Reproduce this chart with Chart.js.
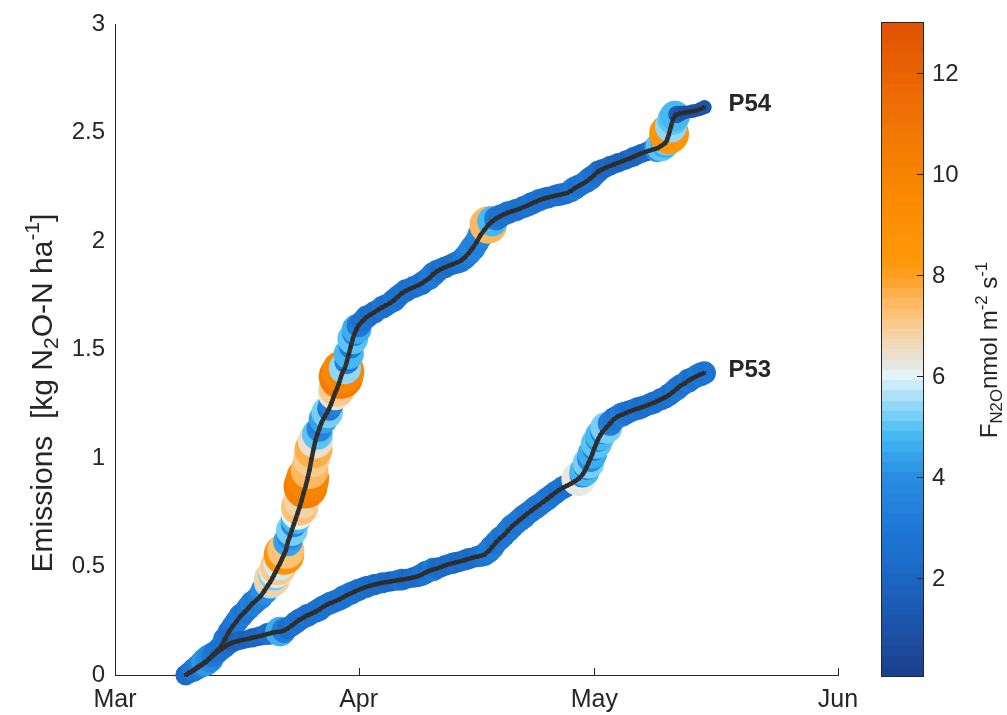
<!DOCTYPE html>
<html>
<head>
<meta charset="utf-8">
<script src="https://cdn.jsdelivr.net/npm/chart.js@4.4.0/dist/chart.umd.min.js"></script>
<style>
  html, body { margin: 0; padding: 0; background: #ffffff; }
  canvas { display: block; }
</style>
</head>
<body>
<canvas id="chart" width="1007" height="715"></canvas>
<script>
// Time axis: days since 1 March
const monthTickDays = [0, 31, 61, 92];
const monthTickLabels = ['Mar', 'Apr', 'May', 'Jun'];

// Plot P54: cumulative emissions (kg N2O-N/ha) and flux (nmol m-2 s-1)
const p54Day = [
  9.0, 9.5, 10.0, 10.5, 11.0, 11.5, 12.0, 12.5, 13.0, 13.5, 14.0, 14.5, 15.0, 15.5, 16.0, 16.5,
  17.0, 17.5, 18.0, 18.5, 19.0, 19.5, 19.75, 20.0, 20.25, 20.5, 20.75, 21.0, 21.25, 21.5, 21.75,
  22.0, 22.25, 22.5, 22.75, 23.0, 23.25, 23.5, 23.75, 24.0, 24.25, 24.5, 24.75, 25.0, 25.25, 25.5,
  25.75, 26.0, 26.25, 26.5, 26.75, 27.0, 27.25, 27.5, 27.75, 28.0, 28.25, 28.5, 28.75, 29.0, 29.25,
  29.5, 29.75, 30.0, 30.25, 30.5, 30.75, 31.0, 31.5, 32.0, 32.5, 33.0, 33.5, 34.0, 34.5, 35.0, 35.5,
  36.0, 36.5, 37.0, 37.5, 38.0, 38.5, 39.0, 39.5, 40.0, 40.5, 41.0, 41.5, 42.0, 42.5, 43.0, 43.5,
  44.0, 44.5, 45.0, 45.5, 46.0, 46.5, 47.0, 47.5, 48.0, 48.5, 49.0, 49.5, 50.0, 50.5, 51.0, 51.5,
  52.0, 52.5, 53.0, 53.5, 54.0, 54.5, 55.0, 55.5, 56.0, 56.5, 57.0, 57.5, 58.0, 58.5, 59.0, 59.5,
  60.0, 60.5, 61.0, 61.5, 62.0, 62.5, 63.0, 63.5, 64.0, 64.5, 65.0, 65.5, 66.0, 66.5, 67.0, 67.5,
  68.0, 68.5, 69.0, 69.5, 70.0, 70.25, 70.5, 70.75, 71.0, 71.25, 71.5, 72.0, 72.5, 73.0, 73.5, 74.0,
  74.5, 75.0
];
const p54Cum = [
  0.000, 0.010, 0.020, 0.033, 0.045, 0.058, 0.075, 0.095, 0.112, 0.130, 0.165, 0.200, 0.225, 0.248, 0.272, 0.290,
  0.310, 0.330, 0.345, 0.362, 0.388, 0.415, 0.428, 0.445, 0.462, 0.480, 0.498, 0.515, 0.535, 0.555, 0.575,
  0.615, 0.640, 0.668, 0.695, 0.720, 0.748, 0.775, 0.805, 0.840, 0.870, 0.905, 0.945, 0.995, 1.040, 1.080,
  1.110, 1.135, 1.160, 1.180, 1.195, 1.210, 1.228, 1.250, 1.275, 1.300, 1.320, 1.345, 1.375, 1.400, 1.415,
  1.445, 1.480, 1.515, 1.550, 1.575, 1.595, 1.612, 1.632, 1.650, 1.662, 1.672, 1.685, 1.695, 1.705, 1.715, 1.728,
  1.745, 1.760, 1.772, 1.780, 1.788, 1.796, 1.805, 1.818, 1.830, 1.848, 1.862, 1.872, 1.880, 1.888, 1.895, 1.902,
  1.910, 1.925, 1.945, 1.968, 1.995, 2.028, 2.052, 2.075, 2.092, 2.105, 2.115, 2.124, 2.132, 2.138, 2.144, 2.150,
  2.158, 2.165, 2.174, 2.182, 2.190, 2.196, 2.201, 2.206, 2.210, 2.214, 2.218, 2.222, 2.232, 2.245, 2.255, 2.265,
  2.276, 2.290, 2.305, 2.322, 2.332, 2.340, 2.348, 2.355, 2.362, 2.368, 2.375, 2.382, 2.390, 2.398, 2.405, 2.412,
  2.418, 2.424, 2.428, 2.440, 2.452, 2.468, 2.495, 2.530, 2.562, 2.578, 2.585, 2.590, 2.594, 2.597, 2.600, 2.604,
  2.610, 2.618
];
const p54Flux = [
  2.2, 2.0, 2.5, 2.8, 3.0, 3.6, 4.2, 3.2, 2.6, 2.8, 3.0, 2.6, 2.7, 2.9, 3.1, 2.8,
  3.0, 3.3, 3.1, 3.4, 4.0, 3.6, 5.6, 6.8, 5.2, 6.2, 7.0, 5.8, 6.5, 8.6, 7.2,
  4.5, 3.8, 5.3, 3.5, 4.8, 6.0, 7.3, 6.8, 5.5, 10.2, 9.8, 7.5, 7.0, 7.6, 6.5,
  5.0, 3.5, 3.0, 4.5, 3.2, 5.2, 3.0, 3.4, 3.0, 6.2, 7.0, 4.0, 10.4, 9.6, 5.5,
  3.2, 4.8, 3.0, 5.0, 3.2, 4.6, 3.0, 2.6, 2.8, 2.4, 2.6, 2.3, 2.7, 2.5, 2.4, 2.8,
  2.6, 2.5, 2.7, 2.4, 2.6, 2.5, 2.8, 2.6, 2.9, 3.1, 2.7, 2.4, 2.5, 2.3, 2.4, 2.6,
  2.8, 3.0, 3.2, 3.5, 3.3, 3.6, 3.4, 7.4, 4.8, 3.0, 2.8, 2.6, 2.7, 2.5, 2.6, 2.4,
  2.6, 2.5, 2.7, 2.5, 2.6, 2.4, 2.5, 2.3, 2.4, 2.6, 2.5, 2.4, 2.7, 2.9, 2.6, 2.5,
  2.7, 2.9, 2.6, 2.5, 2.2, 2.0, 2.1, 1.9, 2.0, 1.8, 2.0, 1.9, 2.1, 1.9, 2.0, 1.9,
  2.1, 2.3, 3.8, 5.0, 4.6, 5.2, 8.4, 5.4, 5.0, 4.8, 1.6, 1.2, 1.0, 0.9, 1.0, 0.9,
  1.0, 1.1
];

// Plot P53
const p53Day = [
  9.0, 9.5, 10.0, 10.5, 11.0, 11.5, 12.0, 12.5, 13.0, 13.5, 14.0, 14.5, 15.0, 15.5, 16.0, 16.5,
  17.0, 17.5, 18.0, 18.5, 19.0, 19.5, 20.0, 20.5, 21.0, 21.5, 22.0, 22.5, 23.0, 23.5, 24.0, 24.5,
  25.0, 25.5, 26.0, 26.5, 27.0, 27.5, 28.0, 28.5, 29.0, 29.5, 30.0, 30.5, 31.0, 31.5, 32.0, 32.5,
  33.0, 33.5, 34.0, 34.5, 35.0, 35.5, 36.0, 36.5, 37.0, 37.5, 38.0, 38.5, 39.0, 39.5, 40.0, 40.5,
  41.0, 41.5, 42.0, 42.5, 43.0, 43.5, 44.0, 44.5, 45.0, 45.5, 46.0, 46.5, 47.0, 47.5, 48.0, 48.5,
  49.0, 49.5, 50.0, 50.5, 51.0, 51.5, 52.0, 52.5, 53.0, 53.5, 54.0, 54.5, 55.0, 55.5, 56.0, 56.5,
  57.0, 57.5, 58.0, 58.5, 59.0, 59.5, 59.75, 60.0, 60.25, 60.5, 60.75, 61.0, 61.25, 61.5, 61.75, 62.0,
  62.5, 63.0, 63.5, 64.0, 64.5, 65.0, 65.5, 66.0, 66.5, 67.0, 67.5, 68.0, 68.5, 69.0, 69.5, 70.0,
  70.5, 71.0, 71.5, 72.0, 72.5, 73.0, 73.5, 74.0, 74.5, 75.0
];
const p53Cum = [
  0.000, 0.012, 0.024, 0.036, 0.048, 0.060, 0.075, 0.090, 0.105, 0.118, 0.130, 0.142, 0.150, 0.155, 0.160, 0.163,
  0.167, 0.172, 0.176, 0.180, 0.185, 0.190, 0.195, 0.198, 0.200, 0.205, 0.215, 0.228, 0.242, 0.255, 0.265, 0.275,
  0.283, 0.292, 0.302, 0.315, 0.325, 0.333, 0.340, 0.348, 0.358, 0.368, 0.376, 0.385, 0.393, 0.400, 0.406, 0.412,
  0.417, 0.421, 0.425, 0.428, 0.431, 0.434, 0.437, 0.440, 0.443, 0.446, 0.450, 0.455, 0.462, 0.472, 0.480, 0.487,
  0.492, 0.498, 0.505, 0.511, 0.516, 0.520, 0.525, 0.530, 0.536, 0.541, 0.545, 0.549, 0.555, 0.570, 0.590, 0.612,
  0.630, 0.645, 0.665, 0.685, 0.700, 0.715, 0.730, 0.745, 0.758, 0.772, 0.785, 0.798, 0.812, 0.826, 0.840, 0.853,
  0.864, 0.873, 0.882, 0.893, 0.905, 0.925, 0.940, 0.958, 0.978, 0.998, 1.020, 1.045, 1.068, 1.088, 1.105, 1.120,
  1.140, 1.160, 1.180, 1.192, 1.200, 1.208, 1.216, 1.222, 1.228, 1.234, 1.241, 1.248, 1.255, 1.263, 1.272, 1.280,
  1.292, 1.305, 1.320, 1.335, 1.345, 1.358, 1.368, 1.378, 1.386, 1.393
];
const p53Flux = [
  2.2, 2.4, 2.8, 3.0, 3.4, 4.2, 3.8, 3.0, 2.8, 2.6, 2.5, 2.3, 2.0, 1.8, 1.9, 1.7,
  1.8, 2.0, 1.9, 2.0, 2.2, 2.6, 2.3, 2.6, 4.6, 3.2, 2.4, 2.5, 2.7, 2.6, 2.5, 2.7,
  2.4, 2.6, 2.8, 2.6, 2.5, 2.7, 2.5, 2.6, 2.8, 2.6, 2.7, 2.5, 2.6, 2.4, 2.5, 2.3,
  2.4, 2.2, 2.3, 2.1, 2.2, 2.0, 2.3, 2.5, 2.2, 2.1, 2.3, 2.4, 2.6, 2.8, 2.5, 2.9,
  2.4, 2.2, 2.3, 2.2, 2.4, 2.3, 2.2, 2.3, 2.4, 2.2, 2.3, 2.5, 2.7, 3.0, 3.1, 2.8,
  2.9, 2.7, 2.9, 3.0, 2.8, 2.9, 3.0, 2.8, 2.7, 2.9, 2.8, 2.7, 2.9, 2.7, 2.8, 2.6,
  2.7, 2.6, 2.5, 3.0, 6.3, 3.6, 4.8, 3.5, 5.2, 3.8, 4.6, 3.2, 5.0, 3.4, 4.8, 3.0,
  5.3, 3.2, 3.0, 2.8, 3.1, 2.8, 2.6, 2.5, 2.7, 2.6, 2.4, 2.5, 2.6, 2.4, 2.6, 2.5,
  2.7, 2.6, 2.9, 2.7, 2.5, 3.0, 2.6, 2.7, 3.0, 2.8
];

// Colour scale limits and ticks
const fluxMin = 0.06;
const fluxMax = 13.0;
const colorbarTicks = [2, 4, 6, 8, 10, 12];

const TEXT = '#262626';
const FONT = '"Liberation Sans", Arial, Helvetica, sans-serif';
Chart.defaults.font.family = FONT;

// Diverging blue-white-orange colour map (stop value, rgb)
const cmapStops = [
  [0.06, [26, 63, 140]], [1.0, [27, 82, 168]], [2.0, [28, 102, 194]], [3.0, [30, 120, 214]],
  [4.0, [42, 141, 227]], [4.5, [54, 166, 236]], [4.9, [76, 191, 244]], [5.3, [130, 210, 246]],
  [5.7, [185, 228, 248]], [6.0, [227, 244, 251]], [6.3, [230, 229, 218]], [6.7, [242, 215, 178]],
  [7.1, [251, 201, 134]], [7.5, [253, 182, 90]], [7.9, [254, 162, 42]], [8.3, [255, 152, 8]],
  [9.5, [250, 138, 0]], [11.0, [240, 116, 4]], [13.0, [226, 82, 0]]
];
const CMAP_LEVELS = 64;
function cmapAt(v) {
  if (v <= cmapStops[0][0]) return cmapStops[0][1];
  for (let i = 1; i < cmapStops.length; i++) {
    const [v1, c1] = cmapStops[i];
    const [v0, c0] = cmapStops[i - 1];
    if (v <= v1) {
      const t = (v - v0) / (v1 - v0);
      return c0.map((c, k) => Math.round(c + (c1[k] - c) * t));
    }
  }
  return cmapStops[cmapStops.length - 1][1];
}
function levelOf(v) {
  const t = (v - fluxMin) / (fluxMax - fluxMin);
  return Math.max(0, Math.min(CMAP_LEVELS - 1, Math.floor(t * CMAP_LEVELS)));
}
function levelColor(k) {
  const v = fluxMin + (k + 0.5) / CMAP_LEVELS * (fluxMax - fluxMin);
  const c = cmapAt(v);
  return `rgb(${c[0]},${c[1]},${c[2]})`;
}
const fluxColor = (f) => levelColor(levelOf(f));
// marker area proportional to flux
const bubbleRadius = (f) => 6.9 * Math.sqrt(f);

const toPoints = (days, vals) => days.map((d, i) => ({ x: d, y: vals[i] }));

// Draw text with sub/superscript runs, centred at the origin
function drawRichText(ctx, runs, size) {
  const widths = runs.map(r => {
    ctx.font = `${r.sub || r.sup ? size * 0.7 : size}px ${FONT}`;
    return ctx.measureText(r.t).width;
  });
  const total = widths.reduce((a, b) => a + b, 0);
  let x = -total / 2;
  ctx.textBaseline = 'alphabetic';
  ctx.textAlign = 'left';
  runs.forEach((r, i) => {
    const s = r.sub || r.sup ? size * 0.7 : size;
    ctx.font = `${s}px ${FONT}`;
    let dy = size * 0.36;
    if (r.sub) dy += size * 0.22;
    if (r.sup) dy -= size * 0.42;
    ctx.fillText(r.t, x, dy);
    x += widths[i];
  });
}

const decorations = {
  id: 'decorations',
  afterDraw(chart) {
    const ctx = chart.ctx;
    const xs = chart.scales.x, ys = chart.scales.y;
    const area = chart.chartArea;
    ctx.save();

    // inward x ticks
    ctx.strokeStyle = TEXT;
    ctx.lineWidth = 1;
    monthTickDays.forEach(d => {
      const px = Math.round(xs.getPixelForValue(d)) + 0.5;
      ctx.beginPath();
      ctx.moveTo(px, area.bottom);
      ctx.lineTo(px, area.bottom - 7);
      ctx.stroke();
    });

    // y-axis title
    ctx.fillStyle = TEXT;
    ctx.save();
    ctx.translate(41, 393);
    ctx.rotate(-Math.PI / 2);
    drawRichText(ctx, [
      { t: 'Emissions  [kg N' }, { t: '2', sub: true }, { t: 'O-N ha' }, { t: '-1', sup: true }, { t: ']' }
    ], 30);
    ctx.restore();

    // series labels next to the last point
    ctx.font = `bold 24px ${FONT}`;
    ctx.textAlign = 'left';
    ctx.textBaseline = 'middle';
    [['P54', p54Day, p54Cum], ['P53', p53Day, p53Cum]].forEach(([name, d, v]) => {
      const n = d.length - 1;
      const px = xs.getPixelForValue(d[n]);
      const py = ys.getPixelForValue(v[n]);
      ctx.fillText(name, px + 24, py - 3);
    });

    // colour bar
    const cbL = 881, cbR = 923, cbT = 22, cbB = 676;
    const cbY = (v) => cbB - (v - fluxMin) / (fluxMax - fluxMin) * (cbB - cbT);
    for (let k = 0; k < CMAP_LEVELS; k++) {
      const y0 = cbB - k / CMAP_LEVELS * (cbB - cbT);
      const y1 = cbB - (k + 1) / CMAP_LEVELS * (cbB - cbT);
      ctx.fillStyle = levelColor(k);
      ctx.fillRect(cbL, Math.floor(y1), cbR - cbL, Math.ceil(y0) - Math.floor(y1));
    }
    ctx.strokeStyle = TEXT;
    ctx.lineWidth = 1;
    ctx.strokeRect(cbL + 0.5, cbT + 0.5, cbR - cbL, cbB - cbT);
    ctx.fillStyle = TEXT;
    ctx.font = `24px ${FONT}`;
    ctx.textAlign = 'left';
    ctx.textBaseline = 'middle';
    colorbarTicks.forEach(t => {
      const y = Math.round(cbY(t)) + 0.5;
      ctx.beginPath();
      ctx.moveTo(cbR, y);
      ctx.lineTo(cbR - 6, y);
      ctx.stroke();
      ctx.fillText(String(t), cbR + 9, y + 1);
    });

    // colour bar title
    ctx.save();
    ctx.translate(988, 350);
    ctx.rotate(-Math.PI / 2);
    drawRichText(ctx, [
      { t: 'F' }, { t: 'N2O', sub: true }, { t: 'nmol m' }, { t: '-2', sup: true }, { t: ' s' }, { t: '-1', sup: true }
    ], 24);
    ctx.restore();

    ctx.restore();
  }
};

const lineStyle = {
  type: 'line',
  borderColor: '#333333',
  borderWidth: 4.5,
  pointStyle: 'crossRot',
  pointRadius: 2.4,
  pointBorderWidth: 1.2,
  pointBorderColor: '#2b2b2b',
  pointBackgroundColor: '#2b2b2b',
  tension: 0,
  fill: false,
  clip: false,
  order: 0
};

new Chart(document.getElementById('chart'), {
  data: {
    datasets: [
      Object.assign({}, lineStyle, { label: 'P54', data: toPoints(p54Day, p54Cum) }),
      Object.assign({}, lineStyle, { label: 'P53', data: toPoints(p53Day, p53Cum) }),
      {
        type: 'scatter', label: 'P54 flux', order: 2, clip: false,
        data: toPoints(p54Day, p54Cum),
        pointRadius: (c) => bubbleRadius(p54Flux[c.dataIndex]),
        pointBackgroundColor: (c) => fluxColor(p54Flux[c.dataIndex]),
        pointBorderWidth: 0
      },
      {
        type: 'scatter', label: 'P53 flux', order: 1, clip: false,
        data: toPoints(p53Day, p53Cum),
        pointRadius: (c) => bubbleRadius(p53Flux[c.dataIndex]),
        pointBackgroundColor: (c) => fluxColor(p53Flux[c.dataIndex]),
        pointBorderWidth: 0
      }
    ]
  },
  options: {
    responsive: false,
    animation: false,
    events: [],
    layout: { padding: { left: 0, right: 169, top: 22, bottom: 0 } },
    plugins: { legend: { display: false }, tooltip: { enabled: false } },
    scales: {
      x: {
        type: 'linear', min: 0, max: 92,
        afterBuildTicks: (s) => { s.ticks = monthTickDays.map(v => ({ value: v })); },
        afterFit: (s) => { s.height = 40; },
        ticks: {
          autoSkip: false, maxRotation: 0, padding: 10, color: TEXT,
          font: { size: 25 },
          callback: (v) => monthTickLabels[monthTickDays.indexOf(v)]
        },
        grid: { display: false, drawTicks: false },
        border: { display: true, color: TEXT, width: 1 }
      },
      y: {
        type: 'linear', min: 0, max: 3,
        afterFit: (s) => { s.width = 115; },
        ticks: {
          stepSize: 0.5, padding: 10, color: TEXT, font: { size: 24 },
          callback: (v) => String(Math.round(v * 10) / 10)
        },
        grid: { display: false, drawTicks: false },
        border: { display: true, color: TEXT, width: 1 }
      }
    }
  },
  plugins: [decorations]
});
</script>
</body>
</html>
